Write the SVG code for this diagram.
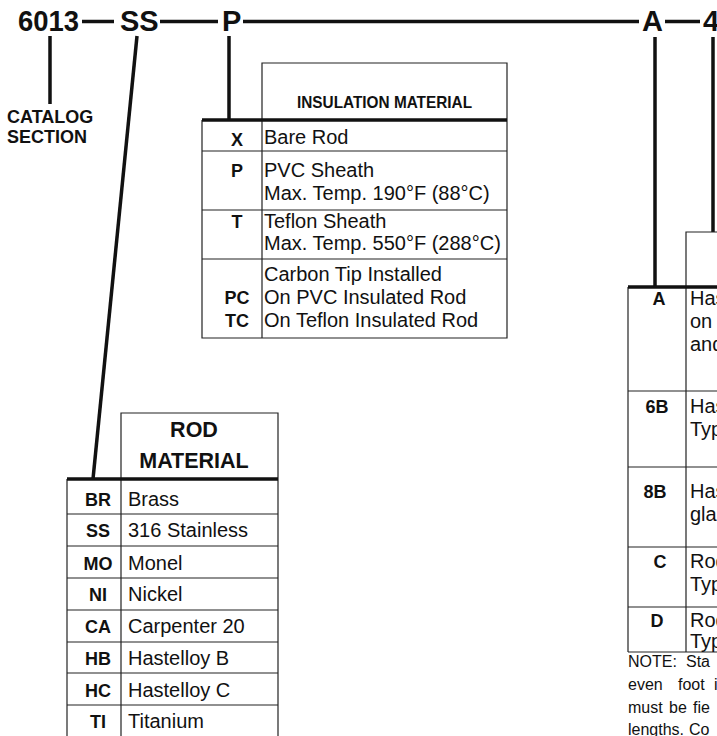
<svg xmlns="http://www.w3.org/2000/svg" width="717" height="736" viewBox="0 0 717 736">
<style>
.hdr{font-family:"Liberation Sans",Arial,sans-serif;font-weight:bold;font-size:29px;fill:#111}
.cap{font-family:"Liberation Sans",Arial,sans-serif;font-weight:bold;font-size:18px;fill:#111}
.th{font-family:"Liberation Sans",Arial,sans-serif;font-weight:bold;fill:#111}
.code{font-family:"Liberation Sans",Arial,sans-serif;font-weight:bold;font-size:18px;fill:#111;text-anchor:middle}
.body{font-family:"Liberation Sans",Arial,sans-serif;font-size:20px;fill:#111}
.note{font-family:"Liberation Sans",Arial,sans-serif;font-size:16px;fill:#111}
.thin{stroke:#222;stroke-width:1.2;fill:none}
.thick{stroke:#111;stroke-width:3.5;fill:none}
.conn{stroke:#111;stroke-width:3.5;fill:none}
</style>
<rect width="717" height="736" fill="#fff"/>

<g id="part-6013"><text class="hdr" x="18" y="31" textLength="61" lengthAdjust="spacingAndGlyphs">6013</text></g>
<g id="part-SS"><text class="hdr" x="120" y="31">SS</text></g>
<g id="part-P"><text class="hdr" x="222" y="31">P</text></g>
<g id="part-A"><text class="hdr" x="642" y="31">A</text></g>
<g id="part-4"><text class="hdr" x="703" y="31">4</text></g>

<g id="connectors">
<line class="conn" x1="82" y1="21.5" x2="114" y2="21.5"/>
<line class="conn" x1="160" y1="21.5" x2="218" y2="21.5"/>
<line class="conn" x1="243" y1="21.5" x2="639" y2="21.5"/>
<line class="conn" x1="665" y1="21.5" x2="700" y2="21.5"/>
<line class="conn" x1="50" y1="36" x2="50" y2="104"/>
<path class="conn" d="M137,36 L93,479"/>
<line class="conn" x1="229" y1="36" x2="229" y2="120"/>
<line class="conn" x1="655" y1="37" x2="655" y2="287"/>
<line class="conn" x1="713" y1="37" x2="713" y2="232"/>
</g>

<g id="catalog-section">
<text class="cap" x="7" y="123">CATALOG</text>
<text class="cap" x="7" y="143">SECTION</text>
</g>

<g id="insulation-table">
<path class="thin" d="M262,338 V63 H507 V338 H202 V120"/>
<line class="thin" x1="202" y1="151" x2="507" y2="151"/>
<line class="thin" x1="202" y1="210" x2="507" y2="210"/>
<line class="thin" x1="202" y1="259" x2="507" y2="259"/>
<line class="thick" x1="202" y1="120" x2="507" y2="120"/>
<text class="th" x="384.5" y="108" font-size="16.5" text-anchor="middle" textLength="175" lengthAdjust="spacingAndGlyphs">INSULATION MATERIAL</text>
<text class="code" x="237" y="146">X</text>
<text class="body" x="264" y="144">Bare Rod</text>
<text class="code" x="237" y="177">P</text>
<text class="body" x="264" y="177">PVC Sheath</text>
<text class="body" x="264" y="200">Max. Temp. 190°F (88°C)</text>
<text class="code" x="237" y="228">T</text>
<text class="body" x="264" y="228">Teflon Sheath</text>
<text class="body" x="264" y="250">Max. Temp. 550°F (288°C)</text>
<text class="body" x="264" y="281">Carbon Tip Installed</text>
<text class="code" x="237" y="304">PC</text>
<text class="body" x="264" y="304">On PVC Insulated Rod</text>
<text class="code" x="237" y="327">TC</text>
<text class="body" x="264" y="327">On Teflon Insulated Rod</text>
</g>

<g id="rod-material-table">
<path class="thin" d="M121,736 V413 H278 V736"/>
<line class="thin" x1="67" y1="479" x2="67" y2="736"/>
<line class="thin" x1="67" y1="514" x2="278" y2="514"/>
<line class="thin" x1="67" y1="546" x2="278" y2="546"/>
<line class="thin" x1="67" y1="578" x2="278" y2="578"/>
<line class="thin" x1="67" y1="610" x2="278" y2="610"/>
<line class="thin" x1="67" y1="642" x2="278" y2="642"/>
<line class="thin" x1="67" y1="673" x2="278" y2="673"/>
<line class="thin" x1="67" y1="705" x2="278" y2="705"/>
<line class="thick" x1="67" y1="479" x2="278" y2="479"/>
<text class="th" x="194" y="437" font-size="21.5" text-anchor="middle">ROD</text>
<text class="th" x="194" y="468" font-size="21.5" text-anchor="middle">MATERIAL</text>
<text class="code" x="98" y="506">BR</text><text class="body" x="128" y="506">Brass</text>
<text class="code" x="98" y="537">SS</text><text class="body" x="128" y="537">316 Stainless</text>
<text class="code" x="98" y="570">MO</text><text class="body" x="128" y="570">Monel</text>
<text class="code" x="98" y="601">NI</text><text class="body" x="128" y="601">Nickel</text>
<text class="code" x="98" y="633">CA</text><text class="body" x="128" y="633">Carpenter 20</text>
<text class="code" x="98" y="665">HB</text><text class="body" x="128" y="665">Hastelloy B</text>
<text class="code" x="98" y="697">HC</text><text class="body" x="128" y="697">Hastelloy C</text>
<text class="code" x="98" y="728">TI</text><text class="body" x="128" y="728">Titanium</text>
</g>

<g id="end-table">
<path class="thin" d="M686,652 V232 H717"/>
<line class="thin" x1="628" y1="287" x2="628" y2="652"/>
<line class="thin" x1="628" y1="391" x2="717" y2="391"/>
<line class="thin" x1="628" y1="467" x2="717" y2="467"/>
<line class="thin" x1="628" y1="547" x2="717" y2="547"/>
<line class="thin" x1="628" y1="607" x2="717" y2="607"/>
<line class="thin" x1="628" y1="652" x2="717" y2="652"/>
<line class="thick" x1="628" y1="287" x2="717" y2="287"/>
<text class="code" x="659" y="305">A</text>
<text class="body" x="690" y="305">Has</text>
<text class="body" x="690" y="328">on</text>
<text class="body" x="690" y="351">and</text>
<text class="code" x="657" y="413">6B</text>
<text class="body" x="690" y="413">Has</text>
<text class="body" x="690" y="436">Typ</text>
<text class="code" x="655" y="498">8B</text>
<text class="body" x="690" y="498">Has</text>
<text class="body" x="690" y="521">glan</text>
<text class="code" x="660" y="568">C</text>
<text class="body" x="690" y="568">Rod</text>
<text class="body" x="690" y="591">Typ</text>
<text class="code" x="657" y="627">D</text>
<text class="body" x="690" y="627">Rod</text>
<text class="body" x="690" y="648">Typ</text>
</g>

<g id="note">
<text class="note" y="667"><tspan x="628">NOTE:</tspan><tspan x="686">Sta</tspan></text>
<text class="note" y="690"><tspan x="628">even</tspan><tspan x="678">foot</tspan><tspan x="714">i</tspan></text>
<text class="note" y="713"><tspan x="628">must</tspan><tspan x="669">be</tspan><tspan x="693">fie</tspan></text>
<text class="note" y="735"><tspan x="628">lengths.</tspan><tspan x="689">Co</tspan></text>
</g>
</svg>
